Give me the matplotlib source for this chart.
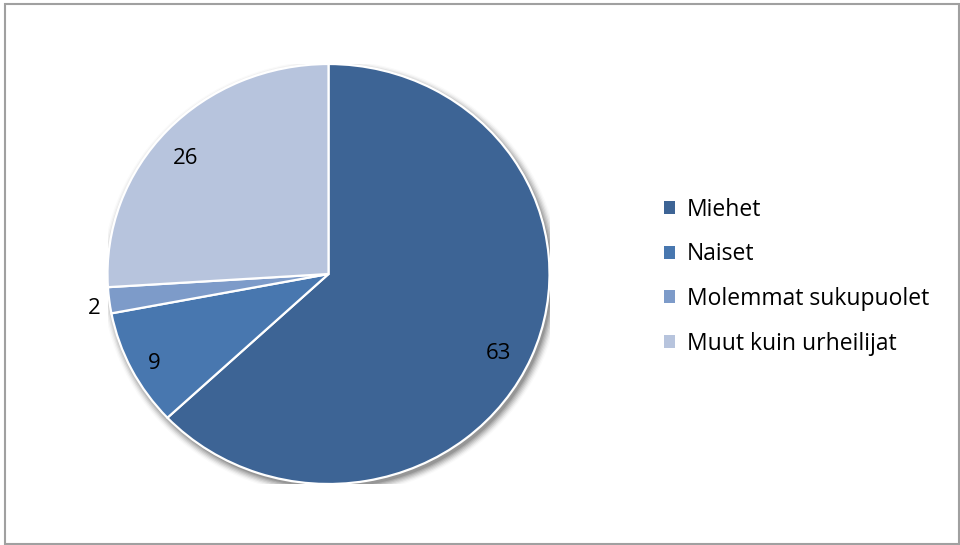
import numpy as np
import matplotlib
matplotlib.use("Agg")
import matplotlib.pyplot as plt
from matplotlib.patches import Ellipse, Rectangle

categories = ["Miehet", "Naiset", "Molemmat sukupuolet", "Muut kuin urheilijat"]
values = [63, 9, 2, 26]
colors = ["#3D6495", "#4877AF", "#7D9BC9", "#B7C4DD"]

plt.rcParams['font.family'] = ['Open Sans', 'DejaVu Sans']

W, H = 960, 545
fig = plt.figure(figsize=(W / 100, H / 100), dpi=100)
fig.patch.set_facecolor("white")

# outer frame
frame = Rectangle((4.5 / W, 1.5 / H), 954 / W, 539.5 / H, transform=fig.transFigure,
                  fill=False, edgecolor="#A0A0A0", linewidth=1.5)
fig.patches.append(frame)

cx, cy = 328.5, 545 - 274
rx, ry = 221, 210
ax = fig.add_axes([(cx - rx) / W, (cy - ry) / H, 2 * rx / W, 2 * ry / H])
ax.set_xlim(-1, 1)
ax.set_ylim(-1, 1)
ax.axis("off")

# soft shadow
for i, a in enumerate(np.linspace(0.12, 0.02, 7)):
    s = 1.0 + i * 0.006
    e = Ellipse((0.012, -0.018), 2 * s, 2 * s, facecolor="black", alpha=a,
                edgecolor="none", zorder=0)
    ax.add_patch(e)

wedges, _ = ax.pie(values, colors=colors, startangle=90, counterclock=False,
                   radius=1.0, wedgeprops=dict(edgecolor="white", linewidth=1.6),
                   frame=False)
ax.set_aspect("auto")
ax.set_xlim(-1, 1)
ax.set_ylim(-1, 1)

for w, v in zip(wedges, values):
    mid = np.deg2rad((w.theta1 + w.theta2) / 2)
    if v < 5:
        r = 1.04
        ax.text(r * np.cos(mid), r * np.sin(mid) - 0.02, str(v), ha="right",
                va="center_baseline", fontsize=16, color="black")
    else:
        r = 0.86
        ax.text(r * np.cos(mid) - 0.02, r * np.sin(mid) - 0.025, str(v), ha="center",
                va="center_baseline", fontsize=16, color="black")

leg = fig.legend(wedges, categories, loc="upper left",
                 bbox_to_anchor=(643 / W, 1 - 177 / H), frameon=False,
                 fontsize=16.5, handlelength=0.5, handleheight=0.5,
                 handletextpad=0.5, labelspacing=0.9)
for h in leg.legend_handles:
    h.set_edgecolor("none")

fig.savefig("out.png", dpi=100, facecolor="white")
